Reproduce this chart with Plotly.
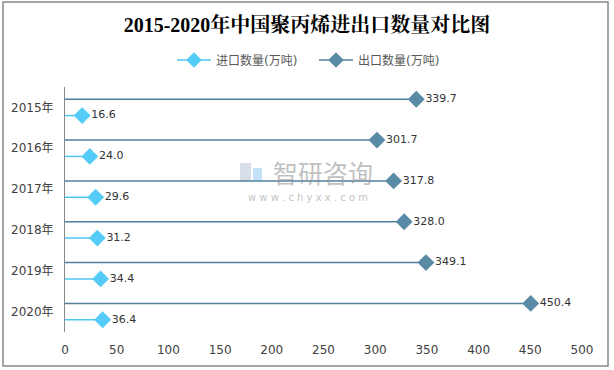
import plotly.graph_objects as go

years = ["2015年", "2016年", "2017年", "2018年", "2019年", "2020年"]
imports = [16.6, 24.0, 29.6, 31.2, 34.4, 36.4]
exports = [339.7, 301.7, 317.8, 328.0, 349.1, 450.4]
x_ticks = [0, 50, 100, 150, 200, 250, 300, 350, 400, 450, 500]

EXP_COLOR = "#5A8BA6"
EXP_LINE = "#4F7F9C"
IMP_COLOR = "#55CCF7"
IMP_LINE = "#4FC6F2"
FONT = "DejaVu Sans, Noto Sans CJK SC, sans-serif"
EXP_NAME = "出口数量(万吨)"
IMP_NAME = "进口数量(万吨)"

fig = go.Figure()

fig.add_trace(go.Scatter(
    name=EXP_NAME, y=years, x=exports, orientation="h",
    mode="markers+text", text=[f"{v:.1f}" for v in exports],
    textposition="middle right", textfont=dict(size=11, color="#333333", family=FONT),
    marker=dict(symbol="diamond", size=13, color=EXP_COLOR),
    error_x=dict(type="data", symmetric=False, array=[0] * len(exports),
                 arrayminus=exports, thickness=1.5, width=0, color=EXP_LINE),
    offsetgroup="exp", showlegend=False, cliponaxis=False, hoverinfo="skip",
))
fig.add_trace(go.Scatter(
    name=IMP_NAME, y=years, x=imports, orientation="h",
    mode="markers+text", text=[f"{v:.1f}" for v in imports],
    textposition="middle right", textfont=dict(size=11, color="#333333", family=FONT),
    marker=dict(symbol="diamond", size=13, color=IMP_COLOR),
    error_x=dict(type="data", symmetric=False, array=[0] * len(imports),
                 arrayminus=imports, thickness=1.5, width=0, color=IMP_LINE),
    offsetgroup="imp", showlegend=False, cliponaxis=False, hoverinfo="skip",
))
# legend entries (line + diamond)
fig.add_trace(go.Scatter(name=IMP_NAME, x=[None], y=[None], mode="lines+markers",
                         marker=dict(symbol="diamond", size=12, color=IMP_COLOR),
                         line=dict(color=IMP_LINE, width=1.5), legendrank=1))
fig.add_trace(go.Scatter(name=EXP_NAME, x=[None], y=[None], mode="lines+markers",
                         marker=dict(symbol="diamond", size=12, color=EXP_COLOR),
                         line=dict(color=EXP_LINE, width=1.5), legendrank=2))

L, R, T, B = 65, 32, 87, 38
W, H = 614, 370
pw, ph = W - L - R, H - T - B

def px(x):
    return (x - L) / pw

def py(y):
    return (H - B - y) / ph

WM = "rgba(150,150,150,0.6)"

fig.update_layout(
    width=W, height=H,
    margin=dict(l=L, r=R, t=T, b=B, autoexpand=False),
    paper_bgcolor="white", plot_bgcolor="white",
    scattermode="group", scattergap=0.2,
    title=dict(text="<b>2015-2020年中国聚丙烯进出口数量对比图</b>", x=307 / W, xref="container",
               xanchor="center", y=1 - 25 / H, yref="container", yanchor="middle",
               font=dict(family="Liberation Serif, Noto Serif CJK SC, Noto Sans CJK SC, serif",
                         size=20, color="#000000")),
    legend=dict(orientation="h", x=px(172), xanchor="left", y=py(60), yanchor="middle",
                font=dict(family=FONT, size=12, color="#595959"),
                itemwidth=34, entrywidth=93, entrywidthmode="pixels",
                bgcolor="rgba(0,0,0,0)"),
    showlegend=True,
    xaxis=dict(range=[0, 500], tickvals=x_ticks, showgrid=False, zeroline=False,
               showline=False, ticks="", automargin=False, ticklabelstandoff=9,
               tickfont=dict(family=FONT, size=12, color="#404040")),
    yaxis=dict(type="category", autorange="reversed", showgrid=False, zeroline=False,
               showline=True, linecolor="#888888", linewidth=1, ticks="",
               ticklabelstandoff=8, automargin=False,
               tickfont=dict(family=FONT, size=12, color="#404040")),
    shapes=[
        dict(type="rect", xref="paper", yref="paper",
             x0=px(3), x1=px(608), y0=py(366), y1=py(2),
             line=dict(color="#888888", width=1.5), fillcolor="rgba(0,0,0,0)",
             layer="below"),
        # watermark logo
        dict(type="rect", xref="paper", yref="paper", x0=px(240), x1=px(251),
             y0=py(181), y1=py(163), line=dict(width=0),
             fillcolor="rgba(170,185,205,0.45)", layer="below"),
        dict(type="rect", xref="paper", yref="paper", x0=px(253), x1=px(262),
             y0=py(181), y1=py(168), line=dict(width=0),
             fillcolor="rgba(120,190,235,0.45)", layer="below"),
    ],
    annotations=[
        dict(text="智研咨询", xref="paper", yref="paper", x=px(323), y=py(172),
             showarrow=False, font=dict(family="Noto Sans CJK SC", size=25, color=WM)),
        dict(text="w w w . c h y x x . c o m", xref="paper", yref="paper", x=px(308), y=py(197),
             showarrow=False, font=dict(family=FONT, size=10, color=WM)),
    ],
)

fig.write_html("out.html", post_script="document.body.style.margin='0px';",
               config={"displayModeBar": False})
